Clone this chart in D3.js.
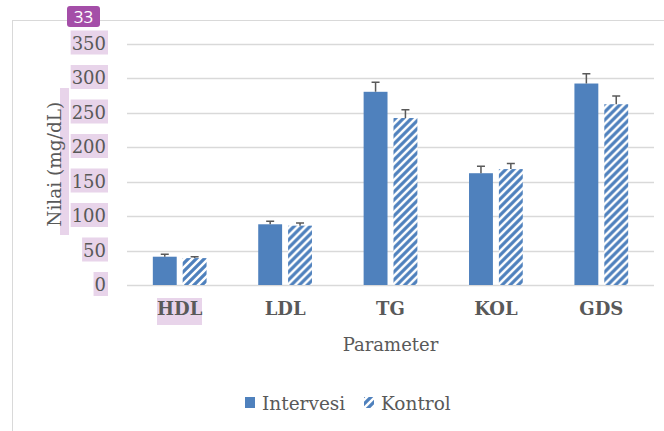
<!DOCTYPE html>
<html><head><meta charset="utf-8">
<script src="https://cdn.jsdelivr.net/npm/d3@7"></script>
<style>html,body{margin:0;padding:0;background:#fff;}svg{display:block;}</style>
</head><body>
<svg id="chart" width="664" height="431"></svg>
<script>
const categories = ["HDL", "LDL", "TG", "KOL", "GDS"];
const series = ["Intervesi", "Kontrol"];
const intervesi = [41, 88, 280, 162, 292];
const intervesiErr = [3.5, 4.5, 14, 10, 14];
const kontrol = [39, 86, 242, 168, 262];
const kontrolErr = [2, 4, 12, 8, 12];
const yTicks = [0, 50, 100, 150, 200, 250, 300, 350];
const badgeText = "33";

const font = "'DejaVu Serif', serif";
const textCol = "#595959";
const blue = "#4f81bd";
const hl = "#e8d4ea";

const svg = d3.select("#chart");
const defs = svg.append("defs");
const pat = defs.append("pattern").attr("id", "hatch")
  .attr("patternUnits", "userSpaceOnUse").attr("width", 8).attr("height", 8);
pat.append("rect").attr("width", 8).attr("height", 8).attr("fill", "#fff");
pat.append("path").attr("d", "M-2,2 L2,-2 M0,8 L8,0 M6,10 L10,6")
  .attr("stroke", blue).attr("stroke-width", 3.2);

// outer border
svg.append("rect").attr("x", 12.5).attr("y", 20.5).attr("width", 700).attr("height", 500)
  .attr("fill", "none").attr("stroke", "#d9d9d9").attr("stroke-width", 1);

const x0 = d3.scaleBand().domain(categories).range([127, 654]).padding(0);
const bw = x0.bandwidth();
const x1 = d3.scaleBand().domain(series).range([bw * 0.245, bw * 0.755]).paddingInner(0.2);
const y = d3.scaleLinear().domain([0, 350]).range([285, 43.5]);

// gridlines
svg.append("g").selectAll("line").data(yTicks).join("line")
  .attr("x1", 127).attr("x2", 654)
  .attr("y1", d => Math.round(y(d)) + 0.5).attr("y2", d => Math.round(y(d)) + 0.5)
  .attr("stroke", "#d9d9d9").attr("stroke-width", 1.3);

// y tick labels with highlights
const yl = svg.append("g");
yTicks.forEach(t => {
  const g = yl.append("g");
  const r = g.append("rect").attr("fill", hl);
  const tx = g.append("text").attr("x", 106).attr("y", y(t)).attr("dy", "0.35em")
    .attr("text-anchor", "end").attr("font-family", font).attr("font-size", 18)
    .attr("fill", textCol).text(t);
  const b = tx.node().getBBox();
  r.attr("x", b.x - 1).attr("y", y(t) - 13).attr("width", b.width + 3).attr("height", 24);
});

// y title highlight + title
svg.append("rect").attr("x", 60).attr("y", 88).attr("width", 9).attr("height", 147).attr("fill", hl);
svg.append("text").attr("transform", `translate(55,${(y(0) + y(350)) / 2}) rotate(-90)`)
  .attr("text-anchor", "middle").attr("dy", "0.35em").attr("font-family", font)
  .attr("font-size", 18.5).attr("fill", textCol).text("Nilai (mg/dL)");

// bars
const data = categories.map((c, i) => ({
  cat: c,
  vals: [
    { s: series[0], v: intervesi[i], e: intervesiErr[i] },
    { s: series[1], v: kontrol[i], e: kontrolErr[i] }
  ]
}));
const groups = svg.append("g").selectAll("g").data(data).join("g")
  .attr("transform", d => `translate(${x0(d.cat)},0)`);
groups.selectAll("rect").data(d => d.vals).join("rect")
  .attr("x", d => x1(d.s)).attr("width", x1.bandwidth())
  .attr("y", d => y(d.v)).attr("height", d => y(0) - y(d.v))
  .attr("fill", d => d.s === series[0] ? blue : "url(#hatch)");
// error bars
groups.selectAll("path.err").data(d => d.vals).join("path").attr("class", "err")
  .attr("d", d => {
    const cx = x1(d.s) + x1.bandwidth() / 2;
    const top = y(d.v + d.e);
    return `M${cx},${y(d.v)} V${top} M${cx - 4},${top} H${cx + 4}`;
  })
  .attr("stroke", "#595959").attr("stroke-width", 1.5).attr("fill", "none");

// category labels
svg.append("rect").attr("x", 157).attr("y", 298).attr("width", 45).attr("height", 27).attr("fill", hl);
svg.append("g").selectAll("text").data(categories).join("text")
  .attr("x", d => x0(d) + bw / 2).attr("y", 315)
  .attr("text-anchor", "middle").attr("font-family", font).attr("font-size", 18)
  .attr("font-weight", "bold").attr("fill", textCol).text(d => d);

// x title
svg.append("text").attr("x", (127 + 654) / 2).attr("y", 351).attr("text-anchor", "middle")
  .attr("font-family", font).attr("font-size", 18).attr("fill", textCol).text("Parameter");

// legend
const leg = svg.append("g");
const legX = [245, 364];
series.forEach((s, i) => {
  leg.append("rect").attr("x", legX[i]).attr("y", 397).attr("width", 10).attr("height", 11)
    .attr("fill", i === 0 ? blue : "url(#hatch)");
  leg.append("text").attr("x", legX[i] + 17).attr("y", 410).attr("font-family", font)
    .attr("font-size", 18.5).attr("fill", textCol).text(s);
});

// badge
svg.append("rect").attr("x", 67).attr("y", 6).attr("width", 33).attr("height", 21).attr("rx", 3)
  .attr("fill", "#a44ea8");
svg.append("text").attr("x", 83.5).attr("y", 16.5).attr("dy", "0.36em").attr("text-anchor", "middle")
  .attr("font-family", "'Open Sans', sans-serif").attr("font-size", 17).attr("fill", "#fff").text(badgeText);
</script>
</body></html>
